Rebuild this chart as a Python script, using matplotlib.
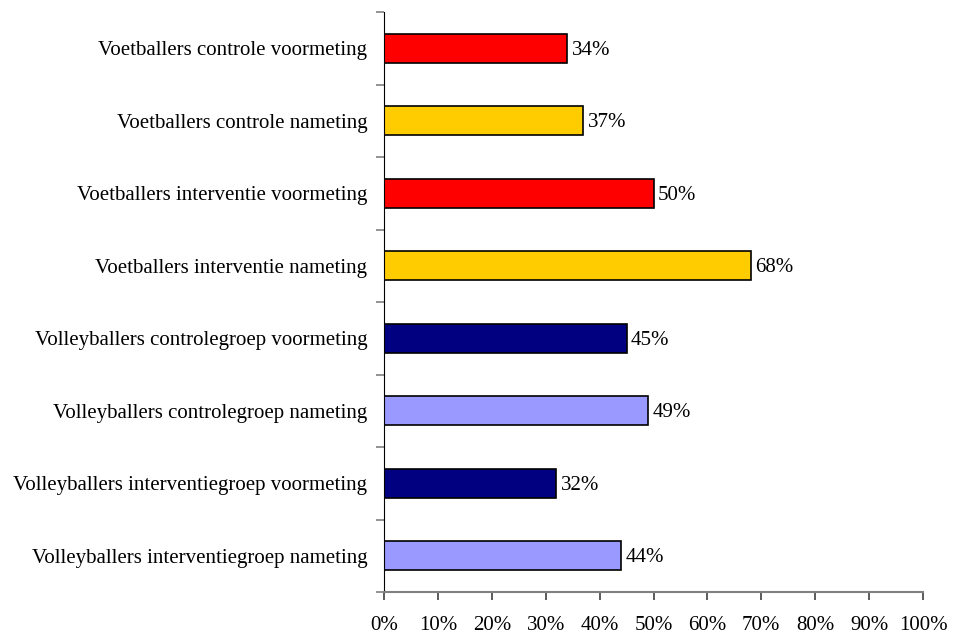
import matplotlib
matplotlib.use("Agg")
import matplotlib.pyplot as plt
from matplotlib.ticker import FixedLocator, NullFormatter

plt.rcParams['font.family'] = ['Liberation Serif', 'DejaVu Serif']

categories = [
    "Voetballers controle voormeting",
    "Voetballers controle nameting",
    "Voetballers interventie voormeting",
    "Voetballers interventie nameting",
    "Volleyballers controlegroep voormeting",
    "Volleyballers controlegroep nameting",
    "Volleyballers interventiegroep voormeting",
    "Volleyballers interventiegroep nameting",
]
values = [34, 37, 50, 68, 45, 49, 32, 44]
colors = ["#FF0000", "#FFCC00", "#FF0000", "#FFCC00",
          "#000080", "#9999FF", "#000080", "#9999FF"]
x_ticks = list(range(0, 101, 10))
x_tick_labels = [f"{t}%" for t in x_ticks]

FS = 15

fig = plt.figure(figsize=(9.55, 6.35), dpi=100)
ax = fig.add_axes([384 / 955, 43 / 635, (923 - 384) / 955, (592 - 12) / 635])

n = len(categories)
ypos = [n - 1 - i for i in range(n)]
ax.barh(ypos, values, height=0.4, color=colors, edgecolor="black", linewidth=1.2)

for y, v in zip(ypos, values):
    ax.text(v + 0.8, y - 0.03, f"{v}%", va="center", ha="left", fontsize=FS)

ax.set_xlim(0, 100)
ax.set_ylim(-0.5, n - 0.5)
ax.set_xticks(x_ticks)
ax.set_xticklabels(x_tick_labels, fontsize=FS)

# category labels at bar centres, tick marks at category boundaries
ax.yaxis.set_major_locator(FixedLocator(ypos))
ax.set_yticklabels(categories, fontsize=FS)
ax.yaxis.set_minor_locator(FixedLocator([k - 0.5 for k in range(n + 1)]))
ax.yaxis.set_minor_formatter(NullFormatter())
ax.tick_params(axis="y", which="major", length=0, pad=12)
ax.tick_params(axis="y", which="minor", length=6, width=1.2, color="#808080")
ax.tick_params(axis="x", which="major", length=6, width=1.2, color="#404040", pad=11)

for s in ("top", "right"):
    ax.spines[s].set_visible(False)
ax.spines["left"].set_color("black")
ax.spines["bottom"].set_color("#808080")
ax.spines["bottom"].set_linewidth(1.5)

fig.savefig("out.png", dpi=100)
